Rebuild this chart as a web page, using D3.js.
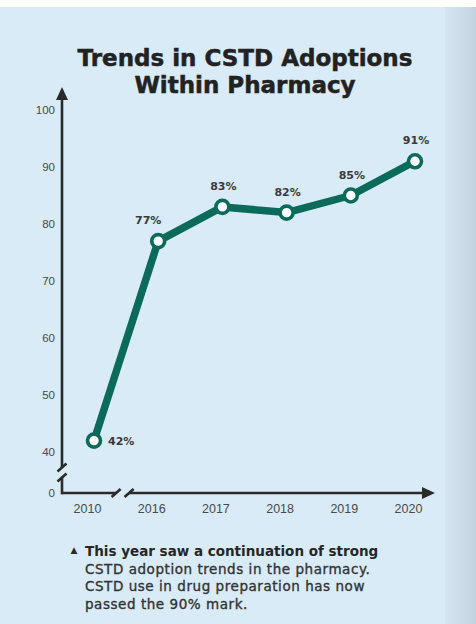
<!DOCTYPE html>
<html>
<head>
<meta charset="utf-8">
<script src="https://cdn.jsdelivr.net/npm/d3@7"></script>
<style>
  body { margin: 0; background: #fff; }
  svg { display: block; }
</style>
</head>
<body>
<div id="chart"></div>
<script>
// Canvas size.
const WIDTH = 476;
const HEIGHT = 624;

// The data.
const years = ["2010", "2016", "2017", "2018", "2019", "2020"];
const adoption = [42, 77, 83, 82, 85, 91];
const yTicks = [0, 40, 50, 60, 70, 80, 90, 100];
const titleLines = ["Trends in CSTD Adoptions", "Within Pharmacy"];
const noteLines = [
    "This year saw a continuation of strong",
    "CSTD adoption trends in the pharmacy.",
    "CSTD use in drug preparation has now",
    "passed the 90% mark."
];

const TEAL = "#0c6a5a";
const INK = "#2a2a2a";

const svg = d3.select("#chart")
    .append("svg")
    .attr("width", WIDTH)
    .attr("height", HEIGHT);

// Background panel with the darker strip on the right.
const defs = svg.append("defs");
const grad = defs.append("linearGradient").attr("id", "edge");
grad.append("stop").attr("offset", "0%").attr("stop-color", "#d5e5f1");
grad.append("stop").attr("offset", "100%").attr("stop-color", "#c3d3df");

svg.append("rect").attr("width", WIDTH).attr("height", HEIGHT).attr("fill", "#d9ebf7");
svg.append("rect").attr("x", 445).attr("width", WIDTH - 445).attr("height", HEIGHT).attr("fill", "url(#edge)");
svg.append("rect").attr("width", WIDTH).attr("height", 7).attr("fill", "#ffffff");

// Title.
svg.append("g")
    .selectAll("text")
    .data(titleLines)
    .enter()
    .append("text")
    .attr("x", 245)
    .attr("y", (d, i) => 66 + i * 27)
    .attr("text-anchor", "middle")
    .style("font-family", "'DejaVu Sans', sans-serif")
    .style("font-weight", "bold")
    .style("font-size", "23px")
    .style("fill", "#222222")
    .style("stroke", "#222222")
    .style("stroke-width", "0.5px")
    .text(d => d);

// Scales: the y scale is piecewise so the 0..40 part is squeezed (broken axis).
const xScale = d3.scalePoint()
    .domain(years)
    .range([94, 415]);

const yScale = d3.scaleLinear()
    .domain([0, 40, 100])
    .range([493, 452, 110]);

const X0 = 62;
const yBase = yScale(0);

// Y axis labels.
const yAxis = d3.axisLeft(yScale).tickValues(yTicks).tickSize(0).tickPadding(7);
const gy = svg.append("g")
    .attr("transform", `translate(${X0}, 0)`)
    .call(yAxis);
gy.select(".domain").remove();
gy.selectAll("text")
    .style("font-family", "'Liberation Sans', Arial, sans-serif")
    .style("font-size", "11.5px")
    .style("fill", "#4a4a4a");

// X axis labels.
const xAxis = d3.axisBottom(xScale).tickSize(0).tickPadding(11);
const gx = svg.append("g")
    .attr("transform", `translate(-7, ${yBase})`)
    .call(xAxis);
gx.select(".domain").remove();
gx.selectAll("text")
    .style("font-family", "'Liberation Sans', Arial, sans-serif")
    .style("font-size", "12.5px")
    .style("fill", "#4a4a4a");

// Axis lines with breaks and arrows.
const axes = svg.append("g")
    .attr("stroke", INK)
    .attr("stroke-width", 2.6)
    .attr("fill", "none");

const xBreak = (xScale(years[0]) + xScale(years[1])) / 2 - 4;
const yBreak = (yScale(0) + yScale(40)) / 2;
const xEnd = 435;
const yTop = 87;

// x axis pieces
axes.append("path").attr("d", `M${X0},${yBase}H${xBreak - 6}`);
axes.append("path").attr("d", `M${xBreak + 7},${yBase}H${xEnd - 10}`);
// y axis pieces
axes.append("path").attr("d", `M${X0},${yBase + 1.3}V${yBreak + 5}`);
axes.append("path").attr("d", `M${X0},${yBreak - 5}V${yTop + 10}`);

// break slashes
const slash = (cx, cy) => `M${cx - 4.5},${cy + 4}L${cx + 4.5},${cy - 4}`;
axes.append("path").attr("d", slash(xBreak - 6, yBase) + slash(xBreak + 7, yBase));
axes.append("path").attr("d", slash(X0, yBreak + 5) + slash(X0, yBreak - 5));

// arrow heads
svg.append("path")
    .attr("d", `M${xEnd},${yBase}L${xEnd - 13},${yBase - 6}L${xEnd - 13},${yBase + 6}Z`)
    .attr("fill", INK);
svg.append("path")
    .attr("d", `M${X0},${yTop}L${X0 - 6},${yTop + 13}L${X0 + 6},${yTop + 13}Z`)
    .attr("fill", INK);

// Line.
const points = years.map((yr, i) => ({ year: yr, value: adoption[i] }));

const line = d3.line()
    .x(d => xScale(d.year))
    .y(d => yScale(d.value));

svg.append("path")
    .datum(points)
    .attr("d", line)
    .attr("fill", "none")
    .attr("stroke", TEAL)
    .attr("stroke-width", 7.5)
    .attr("stroke-linejoin", "round")
    .attr("stroke-linecap", "round");

svg.append("g")
    .selectAll("circle")
    .data(points)
    .enter()
    .append("circle")
    .attr("cx", d => xScale(d.year))
    .attr("cy", d => yScale(d.value))
    .attr("r", 6.5)
    .attr("fill", "#ffffff")
    .attr("stroke", TEAL)
    .attr("stroke-width", 3.6);

// Value labels: first one sits to the right of its point, others above.
svg.append("g")
    .selectAll("text")
    .data(points)
    .enter()
    .append("text")
    .attr("x", (d, i) => xScale(d.year) + (i === 0 ? 14 : i === 1 ? -10 : 1))
    .attr("y", (d, i) => yScale(d.value) + (i === 0 ? 4 : -17))
    .attr("text-anchor", (d, i) => i === 0 ? "start" : "middle")
    .style("font-family", "'DejaVu Sans', sans-serif")
    .style("font-weight", "bold")
    .style("font-size", "11px")
    .style("fill", "#3a3a3a")
    .text(d => d.value + "%");

// Footnote.
svg.append("text")
    .attr("x", 74)
    .attr("y", 553)
    .attr("text-anchor", "middle")
    .style("font-family", "'DejaVu Sans', sans-serif")
    .style("font-size", "9px")
    .style("fill", INK)
    .text("\u25B2");

svg.append("g")
    .selectAll("text")
    .data(noteLines)
    .enter()
    .append("text")
    .attr("x", 85)
    .attr("y", (d, i) => 556 + i * 17.7)
    .style("font-family", "'DejaVu Sans', sans-serif")
    .style("font-weight", (d, i) => i === 0 ? "bold" : "normal")
    .style("font-size", "13.5px")
    .style("letter-spacing", (d, i) => i === 0 ? "0px" : "0.55px")
    .style("fill", (d, i) => i === 0 ? "#262626" : "#333333")
    .style("stroke", (d, i) => i === 0 ? "none" : "#333333")
    .style("stroke-width", "0.35px")
    .text(d => d);
</script>
</body>
</html>
